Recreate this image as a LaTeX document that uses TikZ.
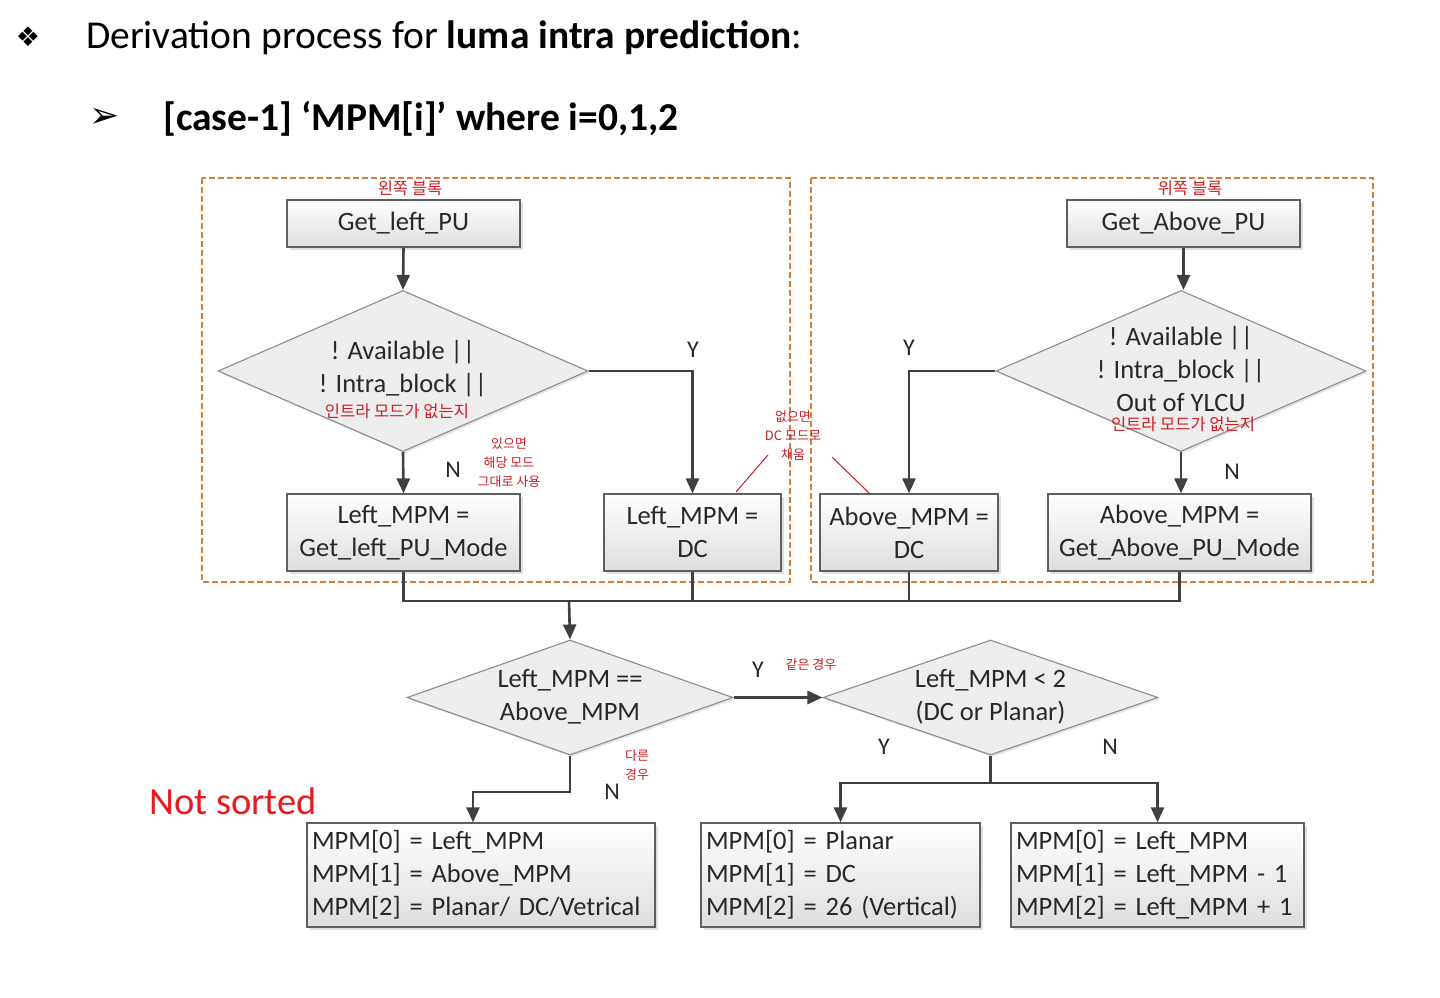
\documentclass[tikz,border=0pt]{standalone}
\usepackage{fontspec}
\setmainfont{Carlito}
\newfontfamily\kr{Noto Sans CJK KR}
\newfontfamily\dv{DejaVu Sans}
\usetikzlibrary{shapes.geometric,arrows.meta,shadows}
\definecolor{linec}{RGB}{64,64,64}
\definecolor{boxborder}{RGB}{95,95,95}
\definecolor{diaborder}{RGB}{140,140,140}
\definecolor{txt}{RGB}{40,40,40}
\definecolor{dashc}{RGB}{214,125,60}
\definecolor{annot}{RGB}{205,30,35}
\definecolor{notsorted}{RGB}{235,25,30}
\tikzset{
  boxn/.style={draw=boxborder, line width=1.3pt, top color=white, bottom color=black!13,
    drop shadow={shadow xshift=3pt, shadow yshift=-3pt, opacity=0.25},
    inner sep=0pt, align=center, text=txt, font=\fontsize{26.5}{33}\selectfont},
  listbox/.style={boxn, align=left, text width=#1, inner xsep=5pt},
  dia/.style={diamond, draw=diaborder, line width=1.1pt, fill=black!7, inner sep=0pt,
    drop shadow={shadow xshift=2pt, shadow yshift=-2pt, opacity=0.2}},
  diatext/.style={align=center, text=txt, font=\fontsize{26.5}{33}\selectfont, inner sep=0pt},
  ln/.style={draw=linec, line width=2.6pt},
  arr/.style={ln, -{Triangle[length=15pt,width=13pt]}},
  yn/.style={text=txt, font=\fontsize{24}{26}\selectfont, inner sep=0pt},
  ann/.style={text=annot, font=\kr\fontsize{13}{19}\selectfont, align=center, inner sep=0pt},
  annbig/.style={ann, font=\kr\fontsize{16.5}{19}\selectfont},
  region/.style={draw=dashc, line width=1.1pt, dash pattern=on 6pt off 3pt}
}
\begin{document}
\begin{tikzpicture}[x=1pt,y=-1pt]
\useasboundingbox (0,0) rectangle (1440,998);
\fill[white] (0,0) rectangle (1440,998);

% headings
\node[font=\dv\fontsize{27}{30}\selectfont, inner sep=0pt] (bul1) at (28,37) {❖};
\node[anchor=west, inner sep=0pt, font=\fontsize{39.5}{44}\selectfont] (h1) at (86,38)
  {Derivation process for \textbf{luma intra prediction}:};
\node[font=\dv\fontsize{36}{40}\selectfont, inner sep=0pt] (bul2) at (105,118) {➢};
\node[anchor=west, inner sep=0pt, font=\bfseries\fontsize{39.5}{44}\selectfont] (h2) at (163,119)
  {[case-1] ‘MPM[i]’ where i=0,1,2};

% dashed regions
\draw[region] (202,178) rectangle (790,582);
\draw[region] (811,178) rectangle (1373,582);

% top nodes
\node[boxn, minimum width=233pt, minimum height=47pt] (GL) at (403.5,223.5) {Get\_left\_PU};
\node[boxn, minimum width=233pt, minimum height=47pt] (GA) at (1183.5,223.5) {Get\_Above\_PU};

\node[dia, minimum width=370pt, minimum height=161pt] (DL) at (403,371) {};
\node[diatext] (DLt) at (403,369) {! Available ||\\! Intra\_block ||};
\node[dia, minimum width=370pt, minimum height=161pt] (DR) at (1181,371) {};
\node[diatext] (DRt) at (1181,369) {! Available ||\\! Intra\_block ||\\Out of YLCU};

\node[boxn, minimum width=233pt, minimum height=77pt] (LGM) at (403.5,532.5) {Left\_MPM =\\Get\_left\_PU\_Mode};
\node[boxn, minimum width=177pt, minimum height=77pt] (LDC) at (692.5,532.5) {Left\_MPM =\\DC};
\node[boxn, minimum width=178pt, minimum height=77pt] (ADC) at (909,532.5) {Above\_MPM =\\DC};
\node[boxn, minimum width=263pt, minimum height=77pt] (AGM) at (1179.5,532.5) {Above\_MPM =\\Get\_Above\_PU\_Mode};

% lower decisions
\node[dia, minimum width=326pt, minimum height=115pt] (D1) at (570,697.5) {};
\node[diatext] (D1t) at (570,697) {Left\_MPM ==\\Above\_MPM};
\node[dia, minimum width=335pt, minimum height=115pt] (D2) at (990.5,697.5) {};
\node[diatext] (D2t) at (990.5,697) {Left\_MPM {\textless} 2\\(DC or Planar)};

% result boxes
\node[listbox=338pt, minimum height=104pt] (B1) at (481,875)
  {MPM[0] = Left\_MPM\\MPM[1] = Above\_MPM\\MPM[2] = Planar/ DC/Vetrical};
\node[listbox=269pt, minimum height=104pt] (B2) at (840.5,875)
  {MPM[0] = Planar\\MPM[1] = DC\\MPM[2] = 26 (Vertical)};
\node[listbox=283pt, minimum height=104pt] (B3) at (1157.5,875)
  {MPM[0] = Left\_MPM\\MPM[1] = Left\_MPM - 1\\MPM[2] = Left\_MPM + 1};

\node[text=notsorted, font=\fontsize{38.5}{42}\selectfont, inner sep=0pt] (NS) at (233,801) {Not sorted};

% connectors
\draw[arr] (GL.south) -- (DL.north);
\draw[arr] (GA.south) -- (GA.south |- DR.north);
\draw[arr] (DL.south) -- (LGM.north);
\draw[arr] (DL.east) -| (LDC.north);
\draw[arr] (DR.west) -| (ADC.north);
\draw[arr] (DR.south) -- (DR.south |- AGM.north);

\coordinate (m1) at (569,601);
\draw[ln] (LGM.south) |- (m1) -| (AGM.south);
\draw[ln] (LDC.south) -- (LDC.south |- m1);
\draw[ln] (ADC.south) -- (ADC.south |- m1);
\draw[arr] (m1) -- (D1.north);

\draw[arr] (D1.east) -- (D2.west);
\coordinate (n1) at (473,792);
\draw[arr] (D1.south) |- (n1) -- (n1 |- B1.north);
\coordinate (n2) at (990.5,783);
\draw[ln] (D2.south) -- (n2);
\draw[arr] (n2) -| (B2.north);
\draw[arr] (n2) -| (B3.north);

% Y / N labels
\node[yn] (y1) at (693,350) {Y};
\node[yn] (n1l) at (453,470) {N};
\node[yn] (y2) at (909,348) {Y};
\node[yn] (n2l) at (1232,472) {N};
\node[yn] (y3) at (758,670) {Y};
\node[yn] (n3l) at (612,792) {N};
\node[yn] (y4) at (884,747) {Y};
\node[yn] (n4l) at (1110,747) {N};

% Korean annotations
\node[annbig] (a1) at (410,188) {왼쪽 블록};
\node[annbig] (a2) at (1190,188) {위쪽 블록};
\node[annbig] (a3) at (397,411) {인트라 모드가 없는지};
\node[annbig] (a4) at (1183,424) {인트라 모드가 없는지};
\node[ann] (a5) at (509,463) {있으면\\해당 모드\\그대로 사용};
\node[ann] (a6) at (793,436) {없으면\\DC 모드로\\채움};
\node[ann] (a7) at (811,665) {같은 경우};
\node[ann] (a8) at (637,765) {다른\\경우};
\coordinate (c1) at (768,455);
\coordinate (c2) at (736,492);
\coordinate (c3) at (832,457);
\coordinate (c4) at (870,494);
\draw[annot, line width=1pt] (c1) -- (c2);
\draw[annot, line width=1pt] (c3) -- (c4);
\end{tikzpicture}
\end{document}
